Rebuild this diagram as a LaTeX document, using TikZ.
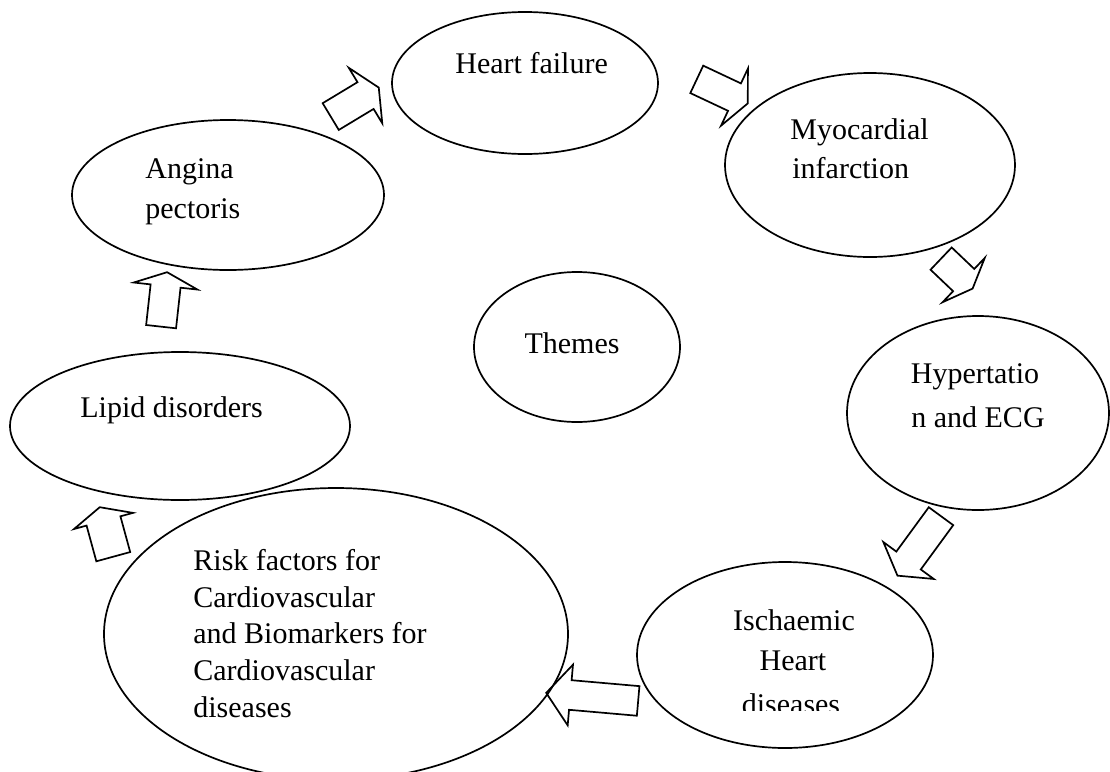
\documentclass[tikz,border=0pt]{standalone}
\usepackage{fontspec}
\setmainfont{Liberation Serif}
\usetikzlibrary{shapes.geometric,shapes.arrows}
\begin{document}
\begin{tikzpicture}[x=0.5pt,y=-0.5pt,
  ell/.style={draw,ellipse,line width=0.85pt,inner sep=0pt},
  lbl/.style={inner sep=0pt,font=\fontsize{15}{18}\selectfont},
  barrow/.style={draw,single arrow,line width=0.85pt,inner xsep=0pt,anchor=tail,line join=miter}]
\useasboundingbox (0,0) rectangle (1110,772);
\clip (0,0) rectangle (1110,772);
% ellipses (minimum width in pt = x radius in px)
\node[ell,minimum width=133pt,minimum height=71pt] (hf) at (525,83) {};
\node[ell,minimum width=145pt,minimum height=92pt] (mi) at (870,165) {};
\node[ell,minimum width=131pt,minimum height=97pt] (hy) at (978,413) {};
\node[ell,minimum width=148pt,minimum height=93pt] (is) at (785,655) {};
\node[ell,minimum width=232pt,minimum height=146pt] (rf) at (336,634) {};
\node[ell,minimum width=170pt,minimum height=74pt] (ld) at (180,426) {};
\node[ell,minimum width=156pt,minimum height=75pt] (ap) at (228,195) {};
\node[ell,minimum width=103pt,minimum height=75pt] (th) at (577,347) {};
% labels
\node[lbl,anchor=base west] (hf-t) at (455,73) {Heart failure};
\node[lbl,anchor=base west] (mi-t1) at (790,139) {Myocardial};
\node[lbl,anchor=base west] (mi-t2) at (792,178) {infarction};
\node[lbl,anchor=base] (hy-t1) at (975,383) {Hypertatio};
\node[lbl,anchor=base] (hy-t2) at (978,427) {n and ECG};
\node[lbl,anchor=base] (is-t1) at (794,630) {Ischaemic};
\node[lbl,anchor=base] (is-t2) at (793,670) {Heart};
\begin{scope}
\clip (600,560) rectangle (1000,710);
\node[lbl,anchor=base] (is-t3) at (791,714) {diseases};
\end{scope}
\node[lbl,anchor=base west] (rf-t1) at (193,570) {Risk factors for};
\node[lbl,anchor=base west] (rf-t2) at (193,607) {Cardiovascular};
\node[lbl,anchor=base west] (rf-t3) at (193,643) {and Biomarkers for};
\node[lbl,anchor=base west] (rf-t4) at (193,680) {Cardiovascular};
\node[lbl,anchor=base west] (rf-t5) at (193,717) {diseases};
\node[lbl,anchor=base west] (ld-t) at (80,417) {Lipid disorders};
\node[lbl,anchor=base west] (ap-t1) at (145,178) {Angina};
\node[lbl,anchor=base west] (ap-t2) at (145,218) {pectoris};
\node[lbl,anchor=base] (th-t) at (572,353) {Themes};
% block arrows
\node[barrow,rotate=31.1,minimum height=28.05pt,inner ysep=7.38pt,single arrow head extend=8.38pt,single arrow tip angle=129] (a1) at (330,117) {};
\node[barrow,rotate=-25.2,minimum height=28.2pt,inner ysep=7.15pt,single arrow head extend=8.2pt,single arrow tip angle=130] (a2) at (696,79) {};
\node[barrow,rotate=-43.6,minimum height=21.75pt,inner ysep=7.25pt,single arrow head extend=7.6pt,single arrow tip angle=136] (a3) at (940.5,258) {};
\node[barrow,rotate=-126.2,minimum height=36.85pt,inner ysep=7.15pt,single arrow head extend=8.05pt,single arrow tip angle=118] (a4) at (941.5,515.5) {};
\node[barrow,rotate=175,minimum height=46.15pt,inner ysep=7pt,single arrow head extend=7.8pt,single arrow tip angle=103] (a5) at (639,701) {};
\node[barrow,rotate=105.3,minimum height=25.65pt,inner ysep=8.35pt,single arrow head extend=6.5pt,single arrow tip angle=130] (a6) at (113.5,557.5) {};
\node[barrow,rotate=83.7,minimum height=27.4pt,inner ysep=7.1pt,single arrow head extend=8.5pt,single arrow tip angle=133] (a7) at (161,327.5) {};
\end{tikzpicture}
\end{document}
